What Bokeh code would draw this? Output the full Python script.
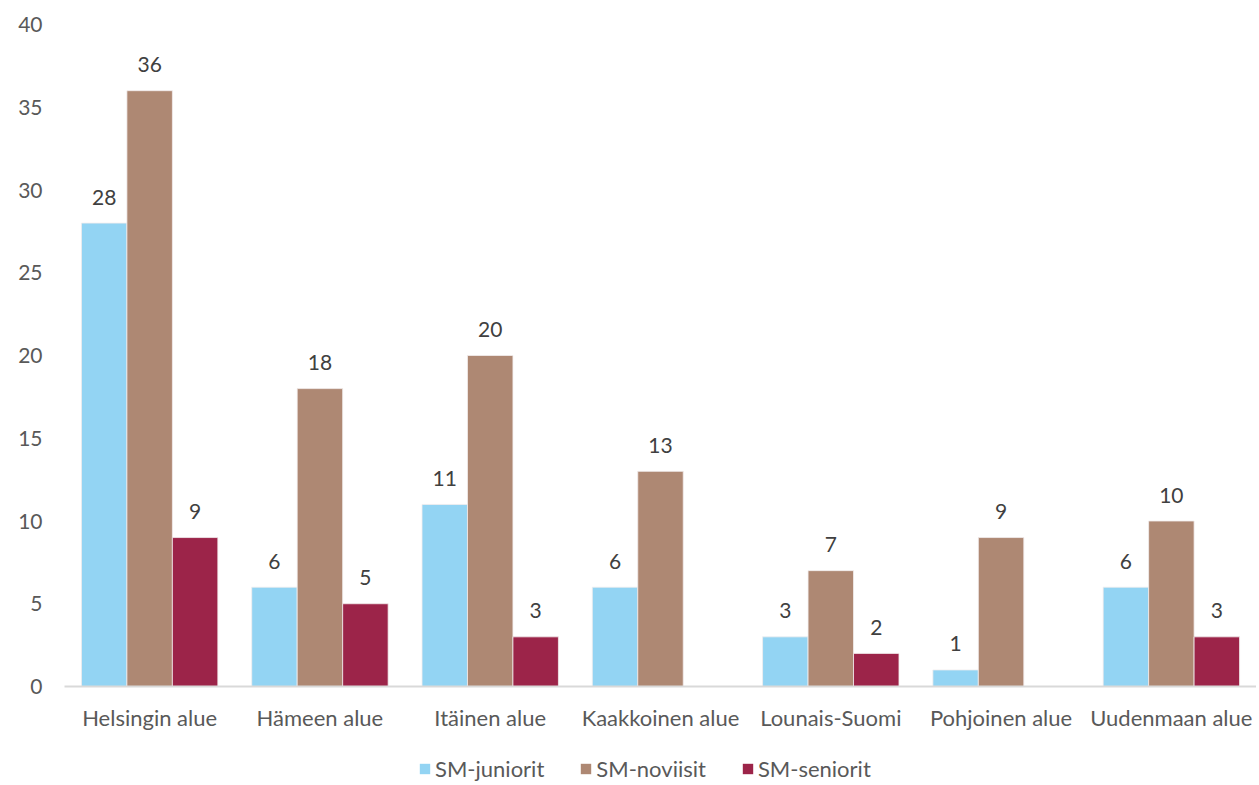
from bokeh.plotting import figure
from bokeh.layouts import column
from bokeh.models import ColumnDataSource, FactorRange, Range1d, SingleIntervalTicker, Legend, LegendItem
from bokeh.transform import dodge
from bokeh.core.properties import value
from bokeh.embed import file_html
from bokeh.resources import INLINE

categories = ["Helsingin alue", "Hämeen alue", "Itäinen alue", "Kaakkoinen alue",
              "Lounais-Suomi", "Pohjoinen alue", "Uudenmaan alue"]
series_names = ["SM-juniorit", "SM-noviisit", "SM-seniorit"]
juniorit = [28, 6, 11, 6, 3, 1, 6]
noviisit = [36, 18, 20, 13, 7, 9, 10]
seniorit = [9, 5, 3, 0, 2, 0, 3]
colors = ["#93D4F3", "#AE8873", "#9C2449"]

FONT = "Lato"
p = figure(x_range=FactorRange(factors=categories, range_padding=0),
           y_range=Range1d(0, 40),
           frame_width=1192, frame_height=662, output_backend="svg", toolbar_location=None,
           min_border_left=64, min_border_right=0, min_border_top=24, min_border_bottom=66)
p.outline_line_color = None
p.xgrid.grid_line_color = None
p.ygrid.grid_line_color = None

bw = 0.267
offsets = [-bw, 0.0, bw]
for name, vals, col, off in zip(series_names, [juniorit, noviisit, seniorit], colors, offsets):
    src = ColumnDataSource(dict(cat=categories, val=vals))
    p.vbar(x=dodge("cat", off, range=p.x_range), top="val", width=bw, source=src,
           fill_color=col, line_color="#f2eeee", line_width=0.8)
    lc = [c for c, v in zip(categories, vals) if v > 0]
    lv = [v for v in vals if v > 0]
    lsrc = ColumnDataSource(dict(cat=lc, val=lv, txt=[str(v) for v in lv]))
    p.text(x=dodge("cat", off, range=p.x_range), y="val", text="txt", source=lsrc,
           text_align="center", text_baseline="middle", y_offset=-26,
           text_font=value(FONT), text_font_size="21px", text_color="#404040")

p.yaxis.ticker = SingleIntervalTicker(interval=5)
p.yaxis.axis_line_color = None
p.yaxis.major_tick_line_color = None
p.yaxis.minor_tick_line_color = None
p.yaxis.major_label_text_font = FONT
p.yaxis.major_label_text_font_size = "21px"
p.yaxis.major_label_text_color = "#595959"
p.yaxis.major_label_standoff = 16

p.xaxis.axis_line_color = "#d9d9d9"
p.xaxis.axis_line_width = 2
p.xaxis.major_tick_line_color = None
p.xaxis.minor_tick_line_color = None
p.xaxis.major_label_text_font = FONT
p.xaxis.major_label_text_font_size = "22px"
p.xaxis.major_label_text_color = "#595959"
p.xaxis.major_label_standoff = 11

# legend strip below the chart (zero-height proxy bars carry the legend swatches)
lg = figure(width=1256, height=32, output_backend="svg", toolbar_location=None,
            x_range=Range1d(0, 1), y_range=Range1d(0, 1),
            min_border_left=0, min_border_right=0, min_border_top=0, min_border_bottom=0)
lg.axis.visible = False
lg.grid.visible = False
lg.outline_line_color = None
leg_renderers = []
for c in colors:
    leg_renderers.append(lg.vbar(x=[0.5], bottom=[0], top=[0], width=0,
                                 fill_color=c, line_color=None))
legend = Legend(items=[LegendItem(label=n, renderers=[r]) for n, r in zip(series_names, leg_renderers)],
                orientation="horizontal", location=(354, 2),
                border_line_color=None, background_fill_alpha=0,
                glyph_width=13, glyph_height=13, label_standoff=4, spacing=35,
                label_text_font=FONT, label_text_font_size="22px", label_text_color="#595959",
                margin=0, padding=0)
lg.add_layout(legend, "center")

open("out.html", "w").write(file_html(column(p, lg, spacing=0), INLINE))
